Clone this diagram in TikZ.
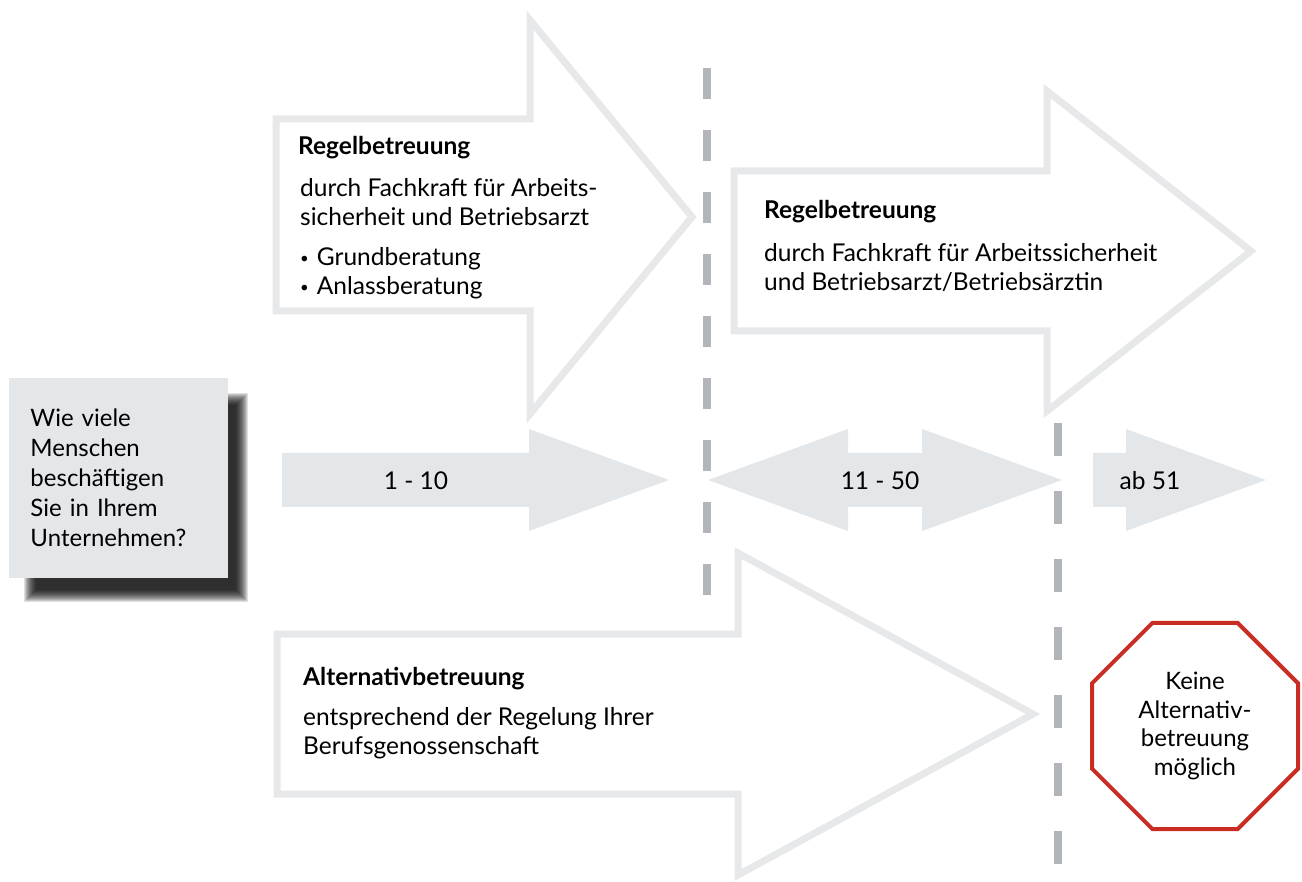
\documentclass[tikz,border=0pt]{standalone}
\usepackage{fontspec}
\setmainfont{Lato}
\usepackage{tikz}
\usetikzlibrary{shapes.geometric}

\definecolor{boxgray}{RGB}{227,231,234}
\definecolor{linegray}{RGB}{231,232,234}
\definecolor{dashgray}{RGB}{178,182,186}
\definecolor{stopred}{RGB}{201,44,34}

\newcommand{\dotitem}{\raisebox{2.5pt}{\fontsize{15}{15}\selectfont•}\hspace{8pt}}

\begin{document}
\begin{tikzpicture}[x=1pt,y=-1pt,
    outline/.style={draw=linegray, line width=7pt, line join=miter},
    band/.style={fill=boxgray},
    sepline/.style={draw=dashgray, line width=8pt},
    txt/.style={anchor=base west, inner sep=0pt, font=\fontsize{24.5}{29}\selectfont},
    headtxt/.style={txt, font=\bfseries\fontsize{24.5}{29}\selectfont},
    numtxt/.style={inner sep=0pt, font=\fontsize{24.5}{29}\selectfont},
    qbox/.style={fill=boxgray, text width=175pt, inner xsep=22pt, minimum height=200pt, align=left, font=\fontsize{24}{30}\selectfont},
    stopsign/.style={regular polygon, regular polygon sides=8, minimum size=223pt, draw=stopred, line width=4pt, align=center, inner sep=0pt, font=\fontsize{24}{28.5}\selectfont}]
\useasboundingbox (0,0) rectangle (1302,882);

% question box with soft shadow
\foreach \r in {12,...,0}
    \fill[black, opacity=0.12] (36-\r,405-\r) rectangle (236+\r,590+\r);
\node[qbox] (question) at (118,478) {Wie viele\\Menschen\\beschäftigen\\Sie in Ihrem\\Unternehmen?};

% big outline arrows
\draw[outline] (276,119) -- (530,119) -- (530,20) -- (692,217) -- (530,414) -- (530,311) -- (276,311) -- cycle;
\draw[outline] (734,171) -- (1047,171) -- (1047,91) -- (1251,251) -- (1047,411) -- (1047,331) -- (734,331) -- cycle;
\draw[outline] (277,634) -- (738,634) -- (738,553) -- (1033,714) -- (738,875) -- (738,794) -- (277,794) -- cycle;

% separators
\draw[sepline, dash pattern=on 31pt off 31pt] (707,68) -- (707,596);
\draw[sepline, dash pattern=on 33pt off 35pt] (1058,423) -- (1058,865);

% band arrows
\fill[band] (282,453) -- (529,453) -- (529,429) -- (669,480) -- (529,531) -- (529,507) -- (282,507) -- cycle;
\fill[band] (708,480) -- (848,429) -- (848,453) -- (922,453) -- (922,429) -- (1062,480) -- (922,531) -- (922,507) -- (848,507) -- (848,531) -- cycle;
\fill[band] (1093,453) -- (1126,453) -- (1126,429) -- (1266,480) -- (1126,531) -- (1126,507) -- (1093,507) -- cycle;

\node[numtxt] (small) at (416,481) {1 - 10};
\node[numtxt] (medium) at (880,481) {11 - 50};
\node[numtxt] (large) at (1150,481) {ab 51};

% texts in the outline arrows
\node[headtxt] (rbA) at (298,155) {Regelbetreuung};
\node[txt] (rbA1) at (300,197) {durch Fachkraft für Arbeits-};
\node[txt] (rbA2) at (300,226) {sicherheit und Betriebsarzt};
\node[txt] (rbA3) at (300,266) {\dotitem Grundberatung};
\node[txt] (rbA4) at (300,295) {\dotitem Anlassberatung};

\node[headtxt] (rbB) at (764,219) {Regelbetreuung};
\node[txt] (rbB1) at (764,262) {durch Fachkraft für Arbeitssicherheit};
\node[txt] (rbB2) at (764,291) {und Betriebsarzt/Betriebsärztin};

\node[headtxt] (alt) at (303,685) {Alternativbetreuung};
\node[txt] (alt1) at (303,725) {entsprechend der Regelung Ihrer};
\node[txt] (alt2) at (303,754) {Berufsgenossenschaft};

% no alternative
\node[stopsign] (nope) at (1195,726) {Keine\\Alternativ-\\betreuung\\möglich};
\end{tikzpicture}
\end{document}
